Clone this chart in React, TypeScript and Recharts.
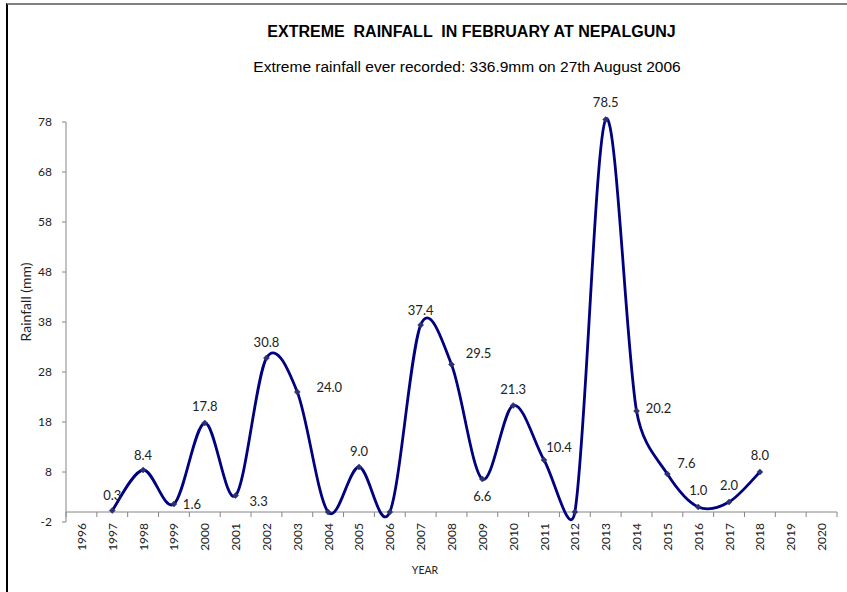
import React from 'react';
import { LineChart, Line, XAxis, YAxis, ReferenceLine, LabelList } from 'recharts';

// February extreme rainfall (mm) at Nepalgunj
const years = [
  '1996', '1997', '1998', '1999', '2000', '2001', '2002', '2003', '2004', '2005', '2006', '2007', '2008',
  '2009', '2010', '2011', '2012', '2013', '2014', '2015', '2016', '2017', '2018', '2019', '2020',
];
const rainfall: (number | null)[] = [
  null, 0.3, 8.4, 1.6, 17.8, 3.3, 30.8, 24.0, 0, 9.0, 0, 37.4, 29.5,
  6.6, 21.3, 10.4, 0, 78.5, 20.2, 7.6, 1.0, 2.0, 8.0, null, null,
];
const yTicks = [-2, 8, 18, 28, 38, 48, 58, 68, 78];

// where each value label sits relative to its point [dx, dy]
const labelOffsets: [number, number][] = [
  [0, 0], [0, -16], [0, -15], [18, 0], [0, -17], [23, 5], [0, -16], [32, -5], [0, 0], [0, -16], [0, 0], [0, -15], [27, -12],
  [0, 17], [0, -17], [15, -13], [0, 0], [0, -18], [22, -3], [19, -11], [0, -17], [0, -17], [0, -17], [0, 0], [0, 0],
];

const data = years.map((year, i) => ({ year, rain: rainfall[i] }));

const W = 847;
const H = 592;
const M = { top: 122, right: 10, bottom: 20, left: 26 };
const Y_AXIS_W = 40;
const X_AXIS_H = 50;
const PLOT_W = W - M.left - M.right - Y_AXIS_W;
const BAND = PLOT_W / years.length;
const FONT = 'Lato, "Open Sans", sans-serif';
const NAVY = '#000080';
const GRID = '#868686';

const dist = (a: [number, number], b: [number, number]) => Math.hypot(b[0] - a[0], b[1] - a[1]);

// Excel-style smoothed line: Catmull-Rom handles, capped at half the segment length
function excelSmooth(context: any) {
  let pts: [number, number][] = [];
  return {
    areaStart() {},
    areaEnd() {},
    lineStart() {
      pts = [];
    },
    lineEnd() {
      if (!pts.length) return;
      context.moveTo(pts[0][0], pts[0][1]);
      for (let i = 0; i < pts.length - 1; i++) {
        const p0 = pts[i - 1] || pts[i];
        const p1 = pts[i];
        const p2 = pts[i + 1];
        const p3 = pts[i + 2] || p2;
        const d12 = dist(p1, p2);
        const d02 = dist(p0, p2);
        const d13 = dist(p1, p3);
        const f1 = d02 > 0 ? Math.min(1 / 6, d12 / 2 / d02) : 0;
        const f2 = d13 > 0 ? Math.min(1 / 6, d12 / 2 / d13) : 0;
        context.bezierCurveTo(
          p1[0] + (p2[0] - p0[0]) * f1, p1[1] + (p2[1] - p0[1]) * f1,
          p2[0] - (p3[0] - p1[0]) * f2, p2[1] - (p3[1] - p1[1]) * f2,
          p2[0], p2[1],
        );
      }
    },
    point(x: number, y: number) {
      pts.push([+x, +y]);
    },
  };
}

const Diamond = (props: any) => {
  const { cx, cy, value } = props;
  if (value == null || cx == null || cy == null) return null;
  const r = 3;
  return (
    <path
      d={`M${cx},${cy - r}L${cx + r},${cy}L${cx},${cy + r}L${cx - r},${cy}Z`}
      fill="#2b3270"
      stroke="#2b3270"
      strokeWidth={0.5}
    />
  );
};

const renderLabel = (props: any) => {
  const { x, y, value, index } = props;
  if (value == null || value === 0) return null;
  const [dx, dy] = labelOffsets[index];
  return (
    <text x={x + dx} y={y + dy} textAnchor="middle" dominantBaseline="central" fontSize={13} fontFamily={FONT} fill="#222">
      {Number(value).toFixed(1)}
    </text>
  );
};

const YearTick = (props: any) => {
  const { x, y, payload, index } = props;
  const axisY = y - 10;
  return (
    <g>
      <line x1={x - BAND / 2} y1={axisY} x2={x - BAND / 2} y2={axisY + 5} stroke={GRID} />
      {index === years.length - 1 ? (
        <line x1={x + BAND / 2} y1={axisY} x2={x + BAND / 2} y2={axisY + 5} stroke={GRID} />
      ) : null}
      <text
        transform={`translate(${x},${y + 1}) rotate(-90)`}
        textAnchor="end"
        dominantBaseline="central"
        fontSize={12}
        fontFamily={FONT}
        fill="#222"
      >
        {payload.value}
      </text>
    </g>
  );
};

export default function App() {
  return (
    <div style={{ position: 'absolute', left: 0, top: 0, width: W, height: H, background: '#fff', overflow: 'hidden' }}>
      <style>{'.recharts-surface g[clip-path], .recharts-surface path[clip-path] { clip-path: none !important; }'}</style>
      <div
        style={{
          position: 'absolute', left: 6, top: 3, width: W, height: H,
          borderLeft: '2px solid #000', borderTop: '2px solid #808080',
        }}
      />
      <div
        style={{
          position: 'absolute', left: 0, top: 23, width: 943, textAlign: 'center', whiteSpace: 'pre',
          fontFamily: '"Liberation Sans", Arial, sans-serif', fontWeight: 'bold', fontSize: 16, lineHeight: '18px', color: '#000',
        }}
      >
        {'EXTREME  RAINFALL  IN FEBRUARY AT NEPALGUNJ'}
      </div>
      <div
        style={{
          position: 'absolute', left: 0, top: 58, width: 934, textAlign: 'center', whiteSpace: 'pre',
          fontFamily: '"Liberation Sans", Arial, sans-serif', fontSize: 15.5, lineHeight: '18px', color: '#000',
        }}
      >
        Extreme rainfall ever recorded: 336.9mm on 27th August 2006
      </div>
      <div
        style={{
          position: 'absolute', left: 0, top: 564, width: 850, textAlign: 'center',
          fontFamily: FONT, fontSize: 10.5, lineHeight: '12px', color: '#222',
        }}
      >
        YEAR
      </div>
      <div
        style={{
          position: 'absolute', left: 26, top: 302, transform: 'translate(-50%, -50%) rotate(-90deg)', whiteSpace: 'nowrap',
          fontFamily: FONT, fontSize: 14, lineHeight: '16px', color: '#222',
        }}
      >
        Rainfall (mm)
      </div>
      <div style={{ position: 'absolute', left: 0, top: 0 }}>
        <LineChart width={W} height={H} data={data} margin={M}>
          <XAxis
            dataKey="year"
            scale="band"
            interval={0}
            height={X_AXIS_H}
            axisLine={false}
            tickLine={false}
            tickSize={0}
            tickMargin={0}
            tick={<YearTick />}
          />
          <YAxis
            width={Y_AXIS_W}
            domain={[-2, 78]}
            ticks={yTicks}
            interval={0}
            allowDataOverflow
            axisLine={{ stroke: GRID }}
            tickLine={{ stroke: GRID }}
            tickSize={4}
            tickMargin={10}
            tick={{ fontSize: 12, fontFamily: FONT, fill: '#222' }}
          />
          <ReferenceLine y={0} stroke={GRID} strokeWidth={1} />
          <Line
            dataKey="rain"
            type={excelSmooth as any}
            stroke={NAVY}
            strokeWidth={2.8}
            dot={<Diamond />}
            activeDot={false}
            isAnimationActive={false}
          >
            <LabelList dataKey="rain" content={renderLabel} />
          </Line>
        </LineChart>
      </div>
    </div>
  );
}
